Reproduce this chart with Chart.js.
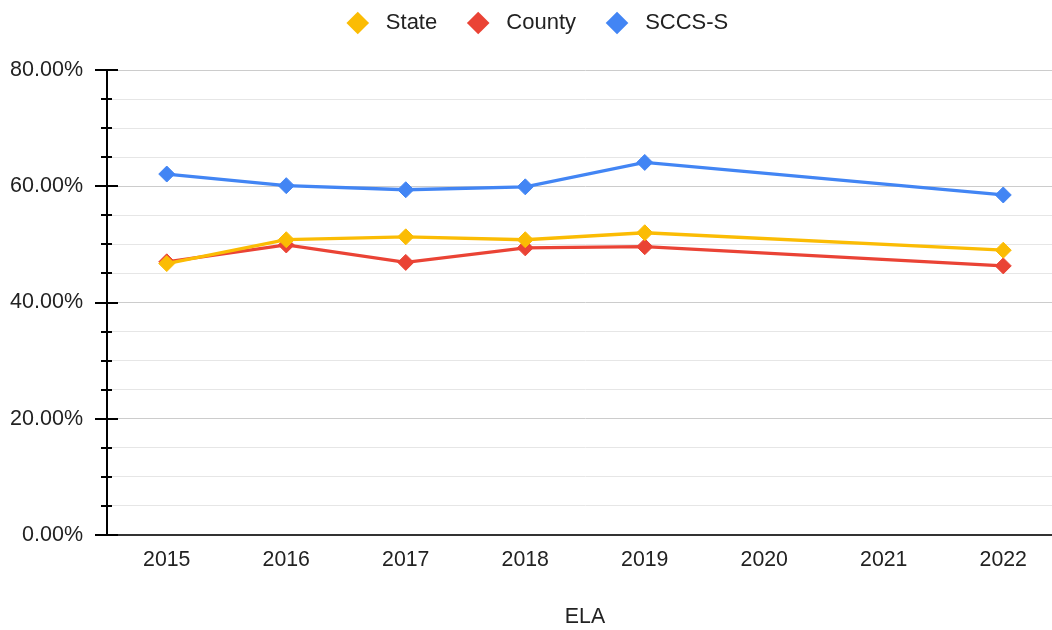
<!DOCTYPE html>
<html>
<head>
<meta charset="utf-8">
<script src="https://cdn.jsdelivr.net/npm/chart.js@4.4.1/dist/chart.umd.min.js"></script>
<style>
html,body{margin:0;padding:0;background:#fff;overflow:hidden;}
#wrap{width:1052px;height:630px;position:relative;overflow:hidden;}
</style>
</head>
<body>
<div id="wrap"><canvas id="c" width="1063" height="630"></canvas></div>
<script>
const categories = ['2015','2016','2017','2018','2019','2020','2021','2022'];
const stateValues = [46.7, 50.8, 51.3, 50.8, 52.0, null, null, 49.0];
const countyValues = [47.0, 49.9, 46.9, 49.4, 49.6, null, null, 46.3];
const sccsValues = [62.1, 60.1, 59.4, 59.9, 64.1, null, null, 58.5];
const seriesNames = ['State', 'County', 'SCCS-S'];
const seriesColors = ['#fbbc04', '#ea4335', '#4285f4'];
const yMin = 0, yMax = 80, yStep = 5, yLabelStep = 20;
const xTitle = 'ELA';

const FONT = '"Liberation Sans", Arial, sans-serif';

function ds(label, data, color){
  return {
    label, data,
    borderColor: color, backgroundColor: color,
    borderWidth: 3.3,
    pointStyle: 'rectRot', pointRadius: 8, pointHoverRadius: 8,
    pointBorderWidth: 1, pointBorderColor: color,
    spanGaps: true, tension: 0
  };
}

const tickPlugin = {
  id: 'axisTicks',
  afterInit(chart){
    const lg = chart.legend;
    if (lg) {
      const orig = lg.fit.bind(lg);
      lg.fit = function(){ orig(); this.height = 88; };
    }
  },
  afterLayout(chart){
    const lg = chart.legend;
    if (lg) { lg.left += 6; lg.right += 6; }
  },
  afterDraw(chart){
    const y = chart.scales.y;
    const ctx = chart.ctx;
    const ax = chart.chartArea.left;
    ctx.save();
    ctx.strokeStyle = '#000';
    ctx.lineWidth = 2;
    y.ticks.forEach(t => {
      const py = Math.round(y.getPixelForValue(t.value));
      const major = t.value % yLabelStep === 0;
      ctx.beginPath();
      ctx.moveTo(ax - (major ? 12 : 6), py);
      ctx.lineTo(ax + (major ? 11 : 5), py);
      ctx.stroke();
    });
    ctx.restore();
  }
};

new Chart(document.getElementById('c'), {
  type: 'line',
  data: {
    labels: categories,
    datasets: [
      ds(seriesNames[0], stateValues, seriesColors[0]),
      ds(seriesNames[1], countyValues, seriesColors[1]),
      ds(seriesNames[2], sccsValues, seriesColors[2])
    ]
  },
  options: {
    responsive: false,
    animation: false,
    layout: { autoPadding: false, padding: { left: 0, right: 0, top: -18, bottom: 0 } },
    plugins: {
      tooltip: { enabled: false },
      legend: {
        position: 'top',
        labels: {
          usePointStyle: true,
          boxWidth: 22, boxHeight: 16,
          padding: 30,
          color: '#222',
          font: { family: FONT, size: 22 },
          generateLabels(chart){
            return Chart.defaults.plugins.legend.labels.generateLabels(chart).map(l => {
              l.text = ' ' + l.text; l.pointStyle = 'rectRot'; l.lineWidth = 0; return l;
            });
          }
        }
      }
    },
    scales: {
      x: {
        offset: true,
        grid: { display: false, drawTicks: false },
        border: { display: true, color: '#333', width: 2 },
        ticks: { color: '#222', font: { family: FONT, size: 21.3 }, padding: 12, autoSkip: false, maxRotation: 0 },
        title: { display: true, text: xTitle, color: '#222', font: { family: FONT, size: 21.3 }, padding: { top: 35, bottom: 0 } },
        afterFit(s){ s.height = 95; s.paddingLeft = 0; s.paddingRight = 0; }
      },
      y: {
        min: yMin, max: yMax,
        ticks: {
          stepSize: yStep, color: '#222', font: { family: FONT, size: 21.5 }, padding: 24, autoSkip: false,
          callback: v => (v % yLabelStep === 0 ? v.toFixed(2) + '%' : '')
        },
        grid: {
          drawTicks: false,
          color: c => (c.tick && c.tick.value % yLabelStep === 0 ? '#cccccc' : '#e6e6e6'),
          lineWidth: 1
        },
        border: { display: true, color: '#000', width: 2 },
        afterFit(s){ s.width = 107; }
      }
    }
  },
  plugins: [tickPlugin]
});
</script>
</body>
</html>
